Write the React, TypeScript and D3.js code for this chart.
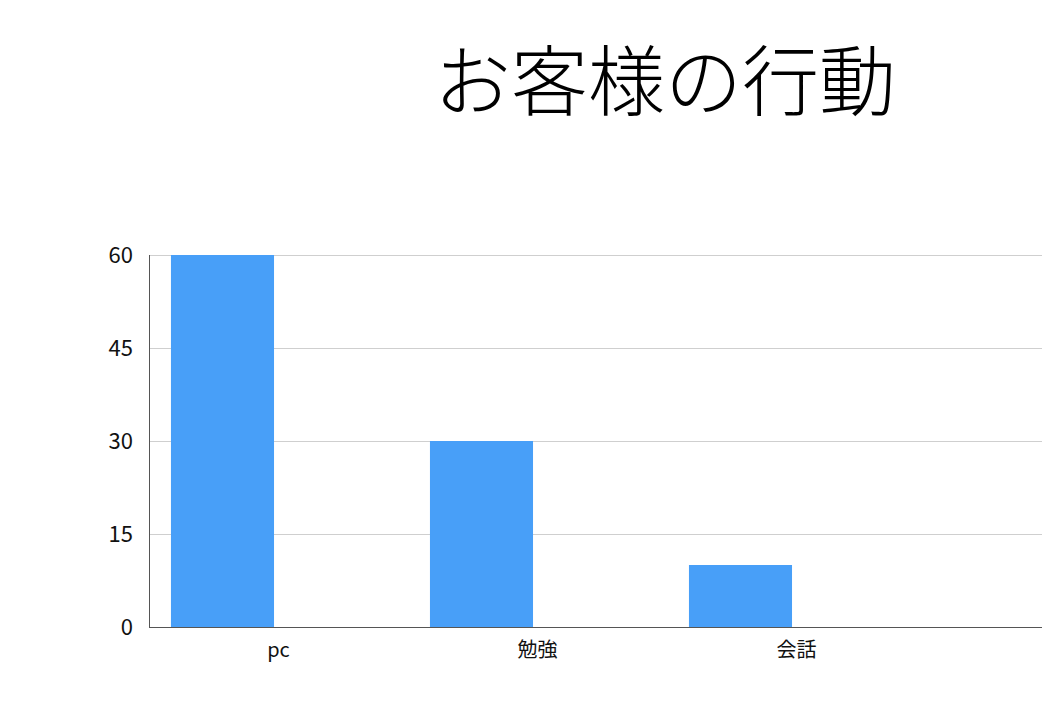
import React, { useEffect, useRef } from 'react';
import * as d3 from 'd3';

const categories = ['pc', '勉強', '会話'];
const series = ['系列1', '系列2'];
const values = [60, 30, 10];
const yTicks = [0, 15, 30, 45, 60];
const title = 'お客様の行動';

const W = 1042;
const H = 727;
const FONT = '"Noto Sans CJK JP", "Noto Sans", sans-serif';

const App: React.FC = () => {
  const ref = useRef<SVGSVGElement>(null);

  useEffect(() => {
    document.body.style.margin = '0';
    if (!ref.current) return;
    const svg = d3.select(ref.current);
    svg.selectAll('*').remove();

    const left = 149;
    const right = W;
    const top = 255;
    const bottom = 627;

    const x = d3.scaleBand().domain(categories).range([left, left + 259 * categories.length]).padding(0);
    const sub = d3.scaleBand().domain(series).range([0, x.bandwidth()]).paddingInner(0.08).paddingOuter(0.196);
    const y = d3.scaleLinear().domain([0, 60]).range([bottom, top]);

    // title
    svg.append('text')
      .attr('x', 665)
      .attr('y', 110)
      .attr('text-anchor', 'middle')
      .attr('font-family', FONT)
      .attr('font-size', 77)
      .attr('font-weight', 300)
      .attr('fill', '#000')
      .text(title);

    // gridlines
    svg.append('g')
      .selectAll('line')
      .data(yTicks.filter(t => t > 0))
      .enter()
      .append('line')
      .attr('x1', left)
      .attr('x2', right)
      .attr('y1', d => y(d) + 0.5)
      .attr('y2', d => y(d) + 0.5)
      .attr('stroke', '#cfcfcf')
      .attr('stroke-width', 1);

    // bars
    svg.append('g')
      .selectAll('rect')
      .data(values)
      .enter()
      .append('rect')
      .attr('x', (d, i) => (x(categories[i]) ?? 0) + (sub(series[0]) ?? 0))
      .attr('y', d => y(d))
      .attr('width', sub.bandwidth())
      .attr('height', d => bottom - y(d))
      .attr('fill', '#489ff8');

    // axes
    svg.append('line')
      .attr('x1', left + 0.5).attr('x2', left + 0.5)
      .attr('y1', top).attr('y2', bottom)
      .attr('stroke', '#555').attr('stroke-width', 1);
    svg.append('line')
      .attr('x1', left).attr('x2', right)
      .attr('y1', bottom + 0.5).attr('y2', bottom + 0.5)
      .attr('stroke', '#555').attr('stroke-width', 1);

    // y tick labels
    svg.append('g')
      .selectAll('text')
      .data(yTicks)
      .enter()
      .append('text')
      .attr('x', 133)
      .attr('y', d => y(d))
      .attr('dy', '0.35em')
      .attr('text-anchor', 'end')
      .attr('font-family', FONT)
      .attr('font-size', 22)
      .attr('fill', '#111')
      .text(d => String(d));

    // x labels
    svg.append('g')
      .selectAll('text')
      .data(categories)
      .enter()
      .append('text')
      .attr('x', d => (x(d) ?? 0) + x.bandwidth() / 2)
      .attr('y', 657)
      .attr('text-anchor', 'middle')
      .attr('font-family', FONT)
      .attr('font-size', 20)
      .attr('fill', '#111')
      .text(d => d);
  }, []);

  return <svg ref={ref} width={W} height={H} style={{ display: 'block', background: '#fff' }} />;
};

export default App;
